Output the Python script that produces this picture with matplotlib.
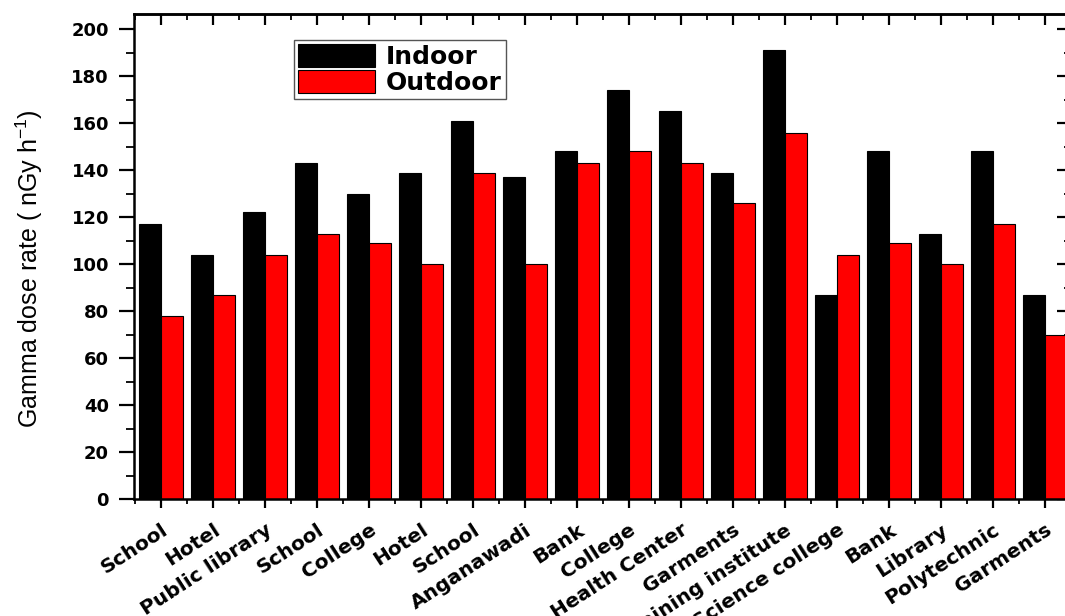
import matplotlib
matplotlib.use('Agg')
import matplotlib.pyplot as plt
import numpy as np
from matplotlib.ticker import MultipleLocator

plt.rcParams['font.family'] = ['DejaVu Sans']
plt.rcParams['mathtext.default'] = 'regular'

# data
sites = ['School', 'Hotel', 'Public library', 'School', 'College', 'Hotel', 'School',
         'Anganawadi', 'Bank', 'College', 'Health Center', 'Garments', 'Training institute',
         'Science college', 'Bank', 'Library', 'Polytechnic', 'Garments']
indoor = [117, 104, 122, 143, 130, 139, 161, 137, 148, 174, 165, 139, 191, 87, 148, 113, 148, 87]
outdoor = [78, 87, 104, 113, 109, 100, 139, 100, 143, 148, 143, 126, 156, 104, 109, 100, 117, 70]

x = np.arange(len(sites))
w = 0.415

fig = plt.figure(figsize=(10.65, 6.16), dpi=100)
# right spine sits just past the image edge, as in the original
ax = fig.add_axes([134 / 1065, 117 / 616, 938 / 1065, 485 / 616])

ax.bar(x - w / 2, indoor, w, color='black', edgecolor='black', linewidth=0.8, label='Indoor')
ax.bar(x + w / 2, outdoor, w, color='#ff0000', edgecolor='black', linewidth=0.8, label='Outdoor')

ax.set_xlim(-0.52, len(sites) - 0.48)
ax.set_ylim(0, 206.5)
ax.set_xticks(x)
ax.set_xticklabels(sites, rotation=33, ha='right', rotation_mode='anchor',
                   fontsize=14.5, fontweight='bold')
ax.xaxis.set_minor_locator(MultipleLocator(0.5))
ax.yaxis.set_major_locator(MultipleLocator(20))
ax.yaxis.set_minor_locator(MultipleLocator(10))
for lab in ax.get_yticklabels():
    lab.set_fontweight('bold')
ax.tick_params(axis='y', which='major', direction='out', length=11, width=1.6, labelsize=13, pad=7)
ax.tick_params(axis='y', which='minor', direction='out', length=6, width=1.3)
ax.tick_params(axis='x', which='major', direction='out', length=6.5, width=1.6, pad=9)
ax.tick_params(axis='x', which='minor', direction='out', length=3.5, width=1.3)

# mirrored ticks pointing inward on the top and right
top = ax.secondary_xaxis('top')
top.set_xticks(x)
top.xaxis.set_minor_locator(MultipleLocator(0.5))
top.tick_params(which='major', direction='in', length=8, width=1.6, labeltop=False)
top.tick_params(which='minor', direction='in', length=4, width=1.3)
right = ax.secondary_yaxis('right')
right.yaxis.set_major_locator(MultipleLocator(20))
right.yaxis.set_minor_locator(MultipleLocator(10))
right.tick_params(which='major', direction='in', length=11, width=1.6, labelright=False)
right.tick_params(which='minor', direction='in', length=6, width=1.3)

for s in ax.spines.values():
    s.set_linewidth(1.8)
top.spines['top'].set_linewidth(1.8)
right.spines['right'].set_linewidth(1.8)

ax.set_ylabel('Gamma dose rate ( nGy h$^{-1}$)', fontsize=18, family='Liberation Sans')
ax.yaxis.set_label_coords(-0.095, 0.476)

leg = ax.legend(loc='upper left', bbox_to_anchor=(0.1705, 0.9465), borderaxespad=0,
                prop={'weight': 'bold', 'size': 18}, handlelength=3.08, handleheight=1.05,
                labelspacing=0.05, handletextpad=0.45, borderpad=0.15, fancybox=False,
                edgecolor='#555555', framealpha=1)
leg.get_frame().set_linewidth(1.0)

fig.savefig('out.png', dpi=100)
